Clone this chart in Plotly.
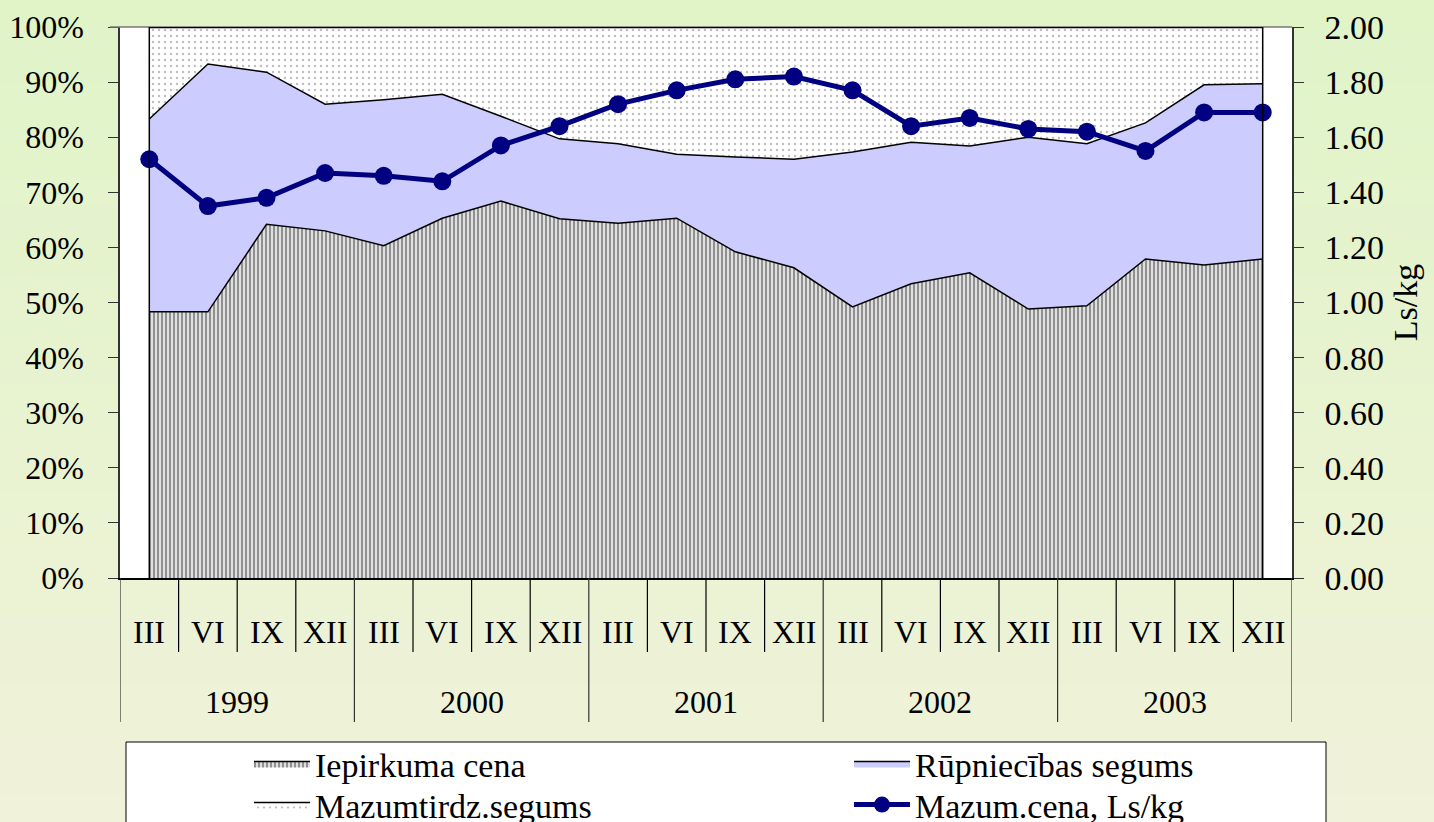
import plotly.graph_objects as go

years = ["1999", "2000", "2001", "2002", "2003"]
quarters = ["III", "VI", "IX", "XII"]
iepirkuma = [48.3, 48.3, 64.2, 63.0, 60.3, 65.3, 68.4, 65.2, 64.4, 65.3,
             59.2, 56.3, 49.2, 53.4, 55.4, 48.8, 49.4, 57.9, 56.8, 57.9]
rupniecibas = [35.0, 45.0, 27.6, 23.0, 26.5, 22.5, 15.4, 14.5, 14.4, 11.6,
               17.2, 19.7, 28.1, 25.7, 23.0, 31.2, 29.4, 24.7, 32.7, 31.8]
mazumtirdz = [16.7, 6.7, 8.2, 14.0, 13.2, 12.2, 16.2, 20.3, 21.2, 23.1,
              23.6, 24.0, 22.7, 20.9, 21.6, 20.0, 21.2, 17.4, 10.5, 10.3]
mazum_cena = [1.52, 1.35, 1.38, 1.47, 1.46, 1.44, 1.57, 1.64, 1.72, 1.77,
              1.81, 1.82, 1.77, 1.64, 1.67, 1.63, 1.62, 1.55, 1.69, 1.69]

FONT = "Liberation Serif"
FS = 32
n = len(years) * len(quarters)
xs = list(range(n))
qlabels = [q for y in years for q in quarters]

fig = go.Figure()
fig.add_trace(go.Scatter(
    x=xs, y=iepirkuma, name="Iepirkuma cena", stackgroup="s", mode="lines",
    line=dict(color="black", width=1.5), legend="legend",
    fillpattern=dict(shape="|", size=4, solidity=0.65, fgcolor="#222222", bgcolor="white"),
))
fig.add_trace(go.Scatter(
    x=xs, y=rupniecibas, name="Rūpniecības segums", stackgroup="s", mode="lines",
    line=dict(color="black", width=1.5), fillcolor="#CCCCFF", legend="legend2",
))
fig.add_trace(go.Scatter(
    x=xs, y=mazumtirdz, name="Mazumtirdz.segums", stackgroup="s", mode="lines",
    line=dict(color="black", width=1.5), legend="legend3",
    fillpattern=dict(shape=".", size=6, solidity=0.12, fgcolor="#7a7a7a", bgcolor="white"),
))
fig.add_trace(go.Scatter(
    x=xs, y=mazum_cena, name="Mazum.cena, Ls/kg", yaxis="y2", mode="lines+markers",
    line=dict(color="#000080", width=5), marker=dict(color="#000080", size=18),
    legend="legend4",
))

shapes = []
# background gradient
top_c = (0xE0, 0xF4, 0xC8)
bot_c = (0xF0, 0xF2, 0xD9)
nb = 60
H = 822
plot_h = 551
b_margin = 244
for i in range(nb):
    t = i / (nb - 1)
    c = tuple(int(round(top_c[k] + (bot_c[k] - top_c[k]) * t)) for k in range(3))
    py0 = i * H / nb
    py1 = (i + 1) * H / nb + 1
    y0 = (H - b_margin - py0) / plot_h
    y1 = (H - b_margin - py1) / plot_h
    shapes.append(dict(type="rect", xref="paper", yref="paper", x0=-0.2, x1=1.25,
                       y0=y1, y1=y0, fillcolor="rgb(%d,%d,%d)" % c, line=dict(width=0),
                       layer="below"))
# white plot area on top of the gradient
shapes.append(dict(type="rect", xref="paper", yref="paper", x0=0, x1=1, y0=0, y1=1,
                   fillcolor="white", line=dict(width=0), layer="below"))

# category separators
for k in range(n + 1):
    is_year = k % len(quarters) == 0
    shapes.append(dict(type="line", xref="x", yref="paper", x0=k - 0.5, x1=k - 0.5,
                       y0=0, y1=-(144 if is_year else 74) / plot_h,
                       line=dict(color="#333333" if is_year else "black", width=1.2)))
# plot top border (gray) and area outline: top edge and vertical edges
shapes.append(dict(type="line", xref="paper", yref="paper", x0=-10 / 1172, x1=1, y0=1, y1=1,
                   line=dict(color="#777777", width=1.5)))
shapes.append(dict(type="line", xref="x", yref="y", x0=xs[0], x1=xs[-1], y0=100, y1=100,
                   line=dict(color="black", width=2.5)))
for xe in (xs[0], xs[-1]):
    shapes.append(dict(type="line", xref="x", yref="y", x0=xe, x1=xe, y0=0, y1=100,
                       line=dict(color="black", width=1.5)))
# legend box
shapes.append(dict(type="rect", xref="paper", yref="paper",
                   x0=(126 - 120) / 1172, x1=(1326 - 120) / 1172,
                   y0=-(900 - 578) / plot_h, y1=-(742 - 578) / plot_h,
                   fillcolor="white", line=dict(color="black", width=1)))

annotations = []
for i, q in enumerate(qlabels):
    annotations.append(dict(x=xs[i], y=-(632 - 578) / plot_h, xref="x", yref="paper",
                            text=q, showarrow=False, font=dict(family=FONT, size=FS, color="black"),
                            yanchor="middle"))
for j, yr in enumerate(years):
    annotations.append(dict(x=j * len(quarters) + (len(quarters) - 1) / 2,
                            y=-(702 - 578) / plot_h, xref="x", yref="paper",
                            text=yr, showarrow=False, font=dict(family=FONT, size=FS, color="black"),
                            yanchor="middle"))

leg_common = dict(orientation="h", xref="container", yref="container",
                  xanchor="left", yanchor="top", bgcolor="rgba(0,0,0,0)", borderwidth=0,
                  font=dict(family=FONT, size=34, color="black"), tracegroupgap=0,
                  itemwidth=56)

fig.update_layout(
    width=1434, height=822,
    margin=dict(l=120, r=142, t=27, b=244, autoexpand=False),
    paper_bgcolor="#EAF3D2", plot_bgcolor="white",
    font=dict(family=FONT, size=FS, color="black"),
    showlegend=True,
    legend=dict(x=249 / 1434, y=1 - 735 / 822, **leg_common),
    legend2=dict(x=849 / 1434, y=1 - 735 / 822, **leg_common),
    legend3=dict(x=249 / 1434, y=1 - 776 / 822, **leg_common),
    legend4=dict(x=849 / 1434, y=1 - 776 / 822, **leg_common),
    xaxis=dict(range=[-0.5, n - 0.5], showticklabels=False, ticks="", showgrid=False,
               zeroline=False, showline=True, linecolor="black", linewidth=1.5,
               automargin=False),
    yaxis=dict(range=[0, 100], dtick=10, ticksuffix="%", ticks="outside", ticklen=10,
               tickcolor="#333", showgrid=False, zeroline=False, showline=True,
               linecolor="#333", linewidth=1.5, ticklabelstandoff=18, automargin=False,
               tickfont=dict(family=FONT, size=32)),
    yaxis2=dict(range=[0, 2], dtick=0.2, tickformat=".2f", overlaying="y", side="right",
                ticks="outside", ticklen=10, tickcolor="#333", showgrid=False, zeroline=False,
                showline=True, linecolor="#333", linewidth=1.5, ticklabelstandoff=14,
                automargin=False, tickfont=dict(family=FONT, size=34),
                title=dict(text="Ls/kg", font=dict(family=FONT, size=34), standoff=10)),
    shapes=shapes,
    annotations=annotations,
)

fig.write_html("out.html", config={"displayModeBar": False},
               post_script="document.body.style.margin='0';document.body.style.padding='0';")
